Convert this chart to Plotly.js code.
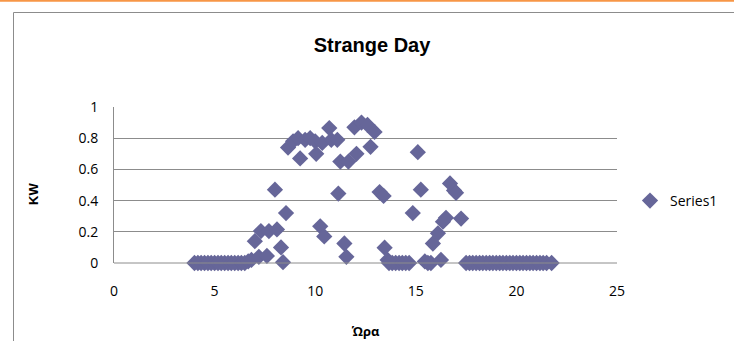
<!DOCTYPE html>
<html>
<head>
<meta charset="utf-8">
<script src="https://cdn.plot.ly/plotly-3.0.1.min.js"></script>
<style>
html,body{margin:0;padding:0;background:#fff;}
#chart{width:734px;height:341px;}
</style>
</head>
<body>
<div id="chart"></div>
<script>
// Hour of day (Ώρα)
var hours = [
  4.0, 4.17, 4.33, 4.5, 4.67, 4.83, 5.0, 5.17, 5.33, 5.5, 5.67, 5.83, 6.0, 6.17, 6.33, 6.5,
  6.67, 6.83,
  7.0, 7.2, 7.3, 7.6, 7.7, 8.0, 8.1, 8.3, 8.4, 8.55, 8.65, 8.9, 9.15, 9.25,
  9.5, 9.75, 10.0, 10.05, 10.25, 10.35, 10.45, 10.7, 10.8, 11.1, 11.15, 11.25,
  11.45, 11.55, 11.65, 11.95, 12.05, 12.3, 12.6, 12.75, 12.95, 13.2, 13.4,
  13.45, 13.6, 13.67, 13.83, 14.0, 14.17, 14.33, 14.5, 14.67, 14.85, 15.1, 15.25, 15.45,
  15.6, 15.75, 15.85, 16.1, 16.25, 16.35, 16.5, 16.7, 16.9, 17.0, 17.25,
  17.5, 17.67, 17.83, 18.0, 18.17, 18.33, 18.5, 18.67, 18.83, 19.0, 19.17, 19.33, 19.5,
  19.67, 19.83, 20.0, 20.17, 20.33, 20.5, 20.67, 20.83, 21.0, 21.17, 21.33, 21.5, 21.75
];
// Power (KW)
var kw = [
  0, 0, 0, 0, 0, 0, 0, 0, 0, 0, 0, 0, 0, 0, 0, 0,
  0.01, 0.02,
  0.14, 0.04, 0.205, 0.045, 0.205, 0.47, 0.215, 0.10, 0.005, 0.32, 0.74, 0.78, 0.80, 0.67,
  0.79, 0.80, 0.78, 0.70, 0.235, 0.77, 0.17, 0.865, 0.79, 0.79, 0.445, 0.65,
  0.125, 0.04, 0.65, 0.87, 0.70, 0.90, 0.885, 0.745, 0.84, 0.455, 0.43,
  0.098, 0.02, 0, 0, 0, 0, 0, 0, 0, 0.32, 0.71, 0.47, 0.01,
  0, 0, 0.125, 0.19, 0.02, 0.265, 0.29, 0.51, 0.465, 0.45, 0.285,
  0, 0, 0, 0, 0, 0, 0, 0, 0, 0, 0, 0, 0,
  0, 0, 0, 0, 0, 0, 0, 0, 0, 0, 0, 0, 0
];
var xTicks = [0, 5, 10, 15, 20, 25];
var yTicks = [0, 0.2, 0.4, 0.6, 0.8, 1];
var yTickText = ['0', '0.2', '0.4', '0.6', '0.8', '1'];

var trace = {
  x: hours, y: kw, type: 'scatter', mode: 'markers', name: 'Series1',
  marker: {symbol: 'diamond', size: 12.5, color: '#666699', line: {width: 0}},
  cliponaxis: false
};

var L = 114, R = 617, T = 107, B = 263;
var W = R - L, H = B - T;
function px2x(p){ return (p - L) / W; }
function py2y(p){ return (B - p) / H; }

var tickFont = {family: 'Open Sans, sans-serif', size: 14, color: '#000'};

var layout = {
  width: 734, height: 341,
  margin: {l: L, r: 734 - R, t: T, b: 341 - B, pad: 0, autoexpand: false},
  paper_bgcolor: '#ffffff', plot_bgcolor: '#ffffff',
  font: {family: 'Open Sans, sans-serif', size: 14, color: '#000'},
  title: {
    text: 'Strange Day', xref: 'paper', x: px2x(372), xanchor: 'center',
    yref: 'container', y: 1 - 45 / 341, yanchor: 'middle',
    font: {family: 'Liberation Sans, Arial, sans-serif', size: 20, weight: 'bold', color: '#000'}
  },
  xaxis: {
    range: [0, 25], tickvals: xTicks, ticktext: xTicks.map(String),
    showgrid: false, zeroline: false, showline: false,
    ticks: '', ticklabelstandoff: 18,
    tickfont: tickFont,
    title: {text: 'Ώρα', standoff: 27,
      font: {family: 'Open Sans, sans-serif', size: 13, weight: 'bold', color: '#000'}},
    fixedrange: true
  },
  yaxis: {
    range: [0, 1], tickvals: yTicks, ticktext: yTickText,
    showgrid: true, gridcolor: '#8c8c8c', gridwidth: 1,
    zeroline: false, showline: true, linecolor: '#8c8c8c', linewidth: 1,
    ticks: '', ticklabelstandoff: 12,
    tickfont: tickFont,
    fixedrange: true
  },
  annotations: [
    {text: 'KW', xref: 'paper', yref: 'paper', x: px2x(33), y: py2y(194),
      xanchor: 'center', yanchor: 'middle', textangle: -90, showarrow: false,
      font: {family: 'Liberation Sans, Arial, sans-serif', size: 13, weight: 'bold', color: '#000'}}
  ],
  showlegend: true,
  legend: {
    x: px2x(630), xanchor: 'left', y: py2y(201), yanchor: 'middle',
    font: {family: 'Open Sans, sans-serif', size: 14, color: '#000'},
    bgcolor: 'rgba(0,0,0,0)', borderwidth: 0
  },
  shapes: [
    {type: 'line', xref: 'paper', yref: 'paper', x0: 0, x1: 1, y0: 0, y1: 0,
      line: {color: '#8c8c8c', width: 1}},
    {type: 'rect', xref: 'paper', yref: 'paper', layer: 'below',
      x0: px2x(13.5), x1: px2x(760), y0: py2y(12.5), y1: py2y(360),
      line: {color: '#8c8c8c', width: 1}, fillcolor: 'rgba(0,0,0,0)'},
    {type: 'line', xref: 'paper', yref: 'paper', x0: px2x(-5), x1: px2x(760),
      y0: py2y(0.8), y1: py2y(0.8), line: {color: '#f79646', width: 2}}
  ]
};

Plotly.newPlot('chart', [trace], layout, {displayModeBar: false, staticPlot: true});
</script>
</body>
</html>
